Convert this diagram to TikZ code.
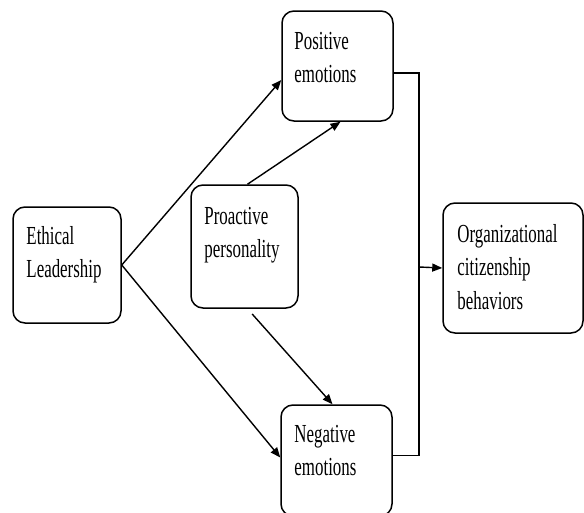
\documentclass[tikz,border=0pt]{standalone}
\usepackage{fontspec}
\setmainfont{Liberation Serif}[FakeStretch=0.65]
\usepackage{tikz}
\usetikzlibrary{arrows.meta}

\begin{document}
\begin{tikzpicture}[x=1pt, y=-1pt,
    box/.style={draw, line width=1.5pt, rounded corners=12pt, inner sep=0pt},
    txt/.style={anchor=base west, inner sep=0pt, text width=118pt, align=left,
        font=\fontsize{26}{33.5}\selectfont},
    arr/.style={line width=1.4pt, -{Triangle[length=10pt,width=8pt]}}]
            \useasboundingbox (0,0) rectangle (584,512);

            % Define variables
            \node[box, minimum width=108pt, minimum height=116pt] (EL) at (67,265) {};
            \node[box, minimum width=111pt, minimum height=110pt] (PE) at (337.5,66) {};
            \node[box, minimum width=107pt, minimum height=123pt] (PP) at (244.5,246.5) {};
            \node[box, minimum width=111pt, minimum height=111pt] (NE) at (336.5,460.5) {};
            \node[box, minimum width=140pt, minimum height=130pt] (OCB) at (513,268) {};
            \coordinate (J) at (419,267);

            % Labels
            \node[txt] (ELtext) at ([xshift=14pt, yshift=-38pt]EL.north west) {Ethical\\Leadership};
            \node[txt] (PEtext) at ([xshift=13pt, yshift=-39pt]PE.north west) {Positive\\emotions};
            \node[txt] (PPtext) at ([xshift=14pt, yshift=-40pt]PP.north west) {Proactive\\personality};
            \node[txt] (NEtext) at ([xshift=14pt, yshift=-38pt]NE.north west) {Negative\\emotions};
            \node[txt] (OCBtext) at ([xshift=15pt, yshift=-40pt]OCB.north west) {Organizational\\citizenship\\behaviors};

            % Draw paths
            \draw[arr] (EL.east) -- ([yshift=-14pt]PE.west);
            \draw[arr] (EL.east) -- ([yshift=3pt]NE.west);
            \draw[arr] ([xshift=3pt]PP.north) -- ([xshift=3pt]PE.south);
            \draw[arr, shorten <=7pt] ([xshift=3pt]PP.south) -- ([xshift=-4pt]NE.north);
            \draw[line width=1.4pt] ([yshift=-7pt]PE.east) -| (J) |- ([yshift=5pt]NE.east);
            \draw[arr] (J) -- (OCB.west);
        \end{tikzpicture}
\end{document}
